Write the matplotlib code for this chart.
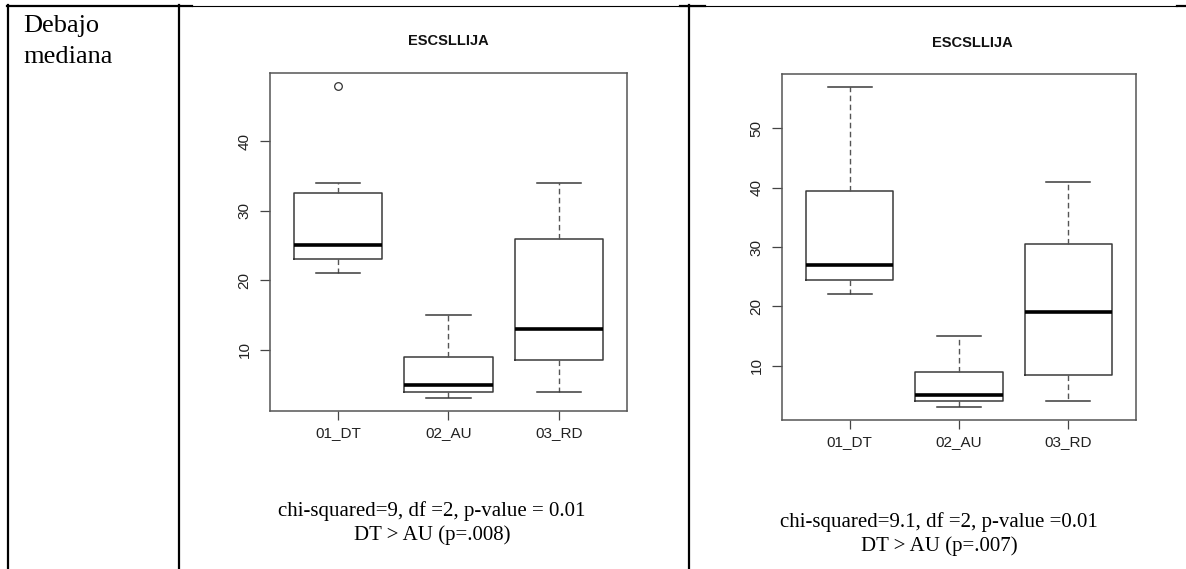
import matplotlib
matplotlib.use('Agg')
import matplotlib.pyplot as plt
from matplotlib.lines import Line2D

ANCHO, ALTO = 1186, 569

grupos = ['01_DT', '02_AU', '03_RD']
titulo = 'ESCSLLIJA'

# panel izquierdo: bigote inf, Q1, mediana, Q3, bigote sup, atípicos
izq_bigote_inf = [21, 3, 4]
izq_q1 = [23, 4, 8.5]
izq_mediana = [25, 5, 13]
izq_q3 = [32.5, 9, 26]
izq_bigote_sup = [34, 15, 34]
izq_atipicos = [[48], [], []]
izq_ticks = [10, 20, 30, 40]
izq_texto = ['chi-squared=9, df =2, p-value = 0.01', 'DT > AU (p=.008)']

# panel derecho
der_bigote_inf = [22, 3, 4]
der_q1 = [24.5, 4, 8.5]
der_mediana = [27, 5, 19]
der_q3 = [39.5, 9, 30.5]
der_bigote_sup = [57, 15, 41]
der_atipicos = [[], [], []]
der_ticks = [10, 20, 30, 40, 50]
der_texto = ['chi-squared=9.1, df =2, p-value =0.01', 'DT > AU (p=.007)']

etiqueta_fila = ['Debajo', 'mediana']

SANS = ['Liberation Sans', 'DejaVu Sans']
SERIF = ['Liberation Serif', 'DejaVu Serif']


def fx(x):
    return x / ANCHO


def fy(y):
    return 1 - y / ALTO


def caja_r(ax, inf, q1, med, q3, sup, atip, ticks):
    """Boxplot al estilo de R base."""
    stats = []
    for i, g in enumerate(grupos):
        stats.append(dict(whislo=inf[i], q1=q1[i], med=med[i], q3=q3[i],
                          whishi=sup[i], fliers=atip[i], label=g))
    n = len(grupos)
    ax.bxp(stats, positions=range(1, n + 1), widths=0.8, capwidths=0.4,
           boxprops=dict(color='#3a3a3a', linewidth=1.1),
           whiskerprops=dict(color='#555555', linewidth=1.0, linestyle=(0, (4, 2.5))),
           capprops=dict(color='#3a3a3a', linewidth=1.1),
           medianprops=dict(color='black', linewidth=2.6, solid_capstyle='butt'),
           flierprops=dict(marker='o', markerfacecolor='none', markeredgecolor='#333333',
                           markersize=5.5, markeredgewidth=0.9))
    valores = inf + sup + sum(atip, [])
    lo, hi = min(valores), max(valores)
    margen = (hi - lo) * 0.04
    ax.set_ylim(lo - margen, hi + margen)
    ax.set_xlim(0.5 - 0.04 * n, n + 0.5 + 0.04 * n)
    ax.set_yticks(ticks)
    ax.set_yticklabels([str(t) for t in ticks], rotation=90, va='center',
                       family=SANS, fontsize=11, color='#222222')
    ax.set_xticklabels(grupos, family=SANS, fontsize=11, color='#222222')
    ax.tick_params(axis='y', length=7.2, width=0.9, pad=6, color='#444444')
    ax.tick_params(axis='x', length=6.5, width=0.9, pad=4.5, color='#444444')
    for s in ax.spines.values():
        s.set_color('#555555')
        s.set_linewidth(1.1)


fig = plt.figure(figsize=(ANCHO / 100, ALTO / 100), dpi=100)
fig.patch.set_facecolor('white')

ax1 = fig.add_axes([fx(270), fy(411), fx(627 - 270), (411 - 73) / ALTO])
caja_r(ax1, izq_bigote_inf, izq_q1, izq_mediana, izq_q3, izq_bigote_sup, izq_atipicos, izq_ticks)

ax2 = fig.add_axes([fx(782), fy(420), fx(1136 - 782), (420 - 74) / ALTO])
caja_r(ax2, der_bigote_inf, der_q1, der_mediana, der_q3, der_bigote_sup, der_atipicos, der_ticks)

# títulos
fig.text(fx(448), fy(45), titulo, ha='center', va='baseline', family=SANS,
         fontweight='bold', fontsize=10.5, color='#111111')
fig.text(fx(972), fy(47), titulo, ha='center', va='baseline', family=SANS,
         fontweight='bold', fontsize=10.5, color='#111111')

# textos del test
for i, linea in enumerate(izq_texto):
    fig.text(fx(432), fy(516 + 24 * i), linea, ha='center', va='baseline',
             family=SERIF, fontsize=15, color='black')
for i, linea in enumerate(der_texto):
    fig.text(fx(939), fy(527 + 24 * i), linea, ha='center', va='baseline',
             family=SERIF, fontsize=15, color='black')

# etiqueta de la fila
for i, linea in enumerate(etiqueta_fila):
    fig.text(fx(23), fy(32 + 31 * i), linea, ha='left', va='baseline',
             family=SERIF, fontsize=19, color='black')

# bordes de la tabla
lineas = [
    ([8, 8], [5, 569], 1.6),
    ([178.5, 178.5], [5, 569], 1.6),
    ([688.5, 688.5], [5, 569], 1.6),
    ([7, 192], [5.5, 5.5], 1.6),
    ([192, 1177], [5.5, 5.5], 0.8),
    ([680, 705], [5.5, 5.5], 1.6),
    ([1177, 1186], [5.5, 5.5], 1.6),
]
for xs, ys, lw in lineas:
    fig.add_artist(Line2D([fx(x) for x in xs], [fy(y) for y in ys],
                          transform=fig.transFigure, color='black', linewidth=lw))

fig.savefig('out.png', dpi=100, facecolor='white')
